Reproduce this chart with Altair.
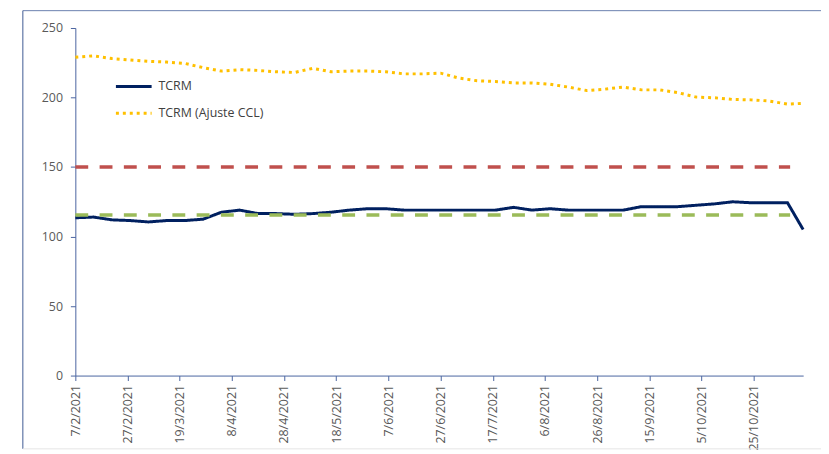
import altair as alt
import pandas as pd

fechas = [
    "2021-02-07", "2021-02-14", "2021-02-21", "2021-02-28", "2021-03-07", "2021-03-14",
    "2021-03-21", "2021-03-28", "2021-04-04", "2021-04-11", "2021-04-18", "2021-04-25",
    "2021-05-02", "2021-05-09", "2021-05-16", "2021-05-23", "2021-05-30", "2021-06-06",
    "2021-06-13", "2021-06-20", "2021-06-27", "2021-07-04", "2021-07-11", "2021-07-18",
    "2021-07-25", "2021-08-01", "2021-08-08", "2021-08-15", "2021-08-22", "2021-08-29",
    "2021-09-05", "2021-09-12", "2021-09-19", "2021-09-26", "2021-10-03", "2021-10-10",
    "2021-10-17", "2021-10-24", "2021-10-31", "2021-11-07", "2021-11-13",
]

tcrm = [113.5, 114, 112, 111.5, 110.5, 111.5, 111.5, 112.5, 117.5, 119, 116.5, 116.5,
        116, 116.5, 117.5, 119, 120, 120, 119, 119, 119, 119, 119, 119,
        121, 119, 120, 119, 119, 119, 119, 121.5, 121.5, 121.5, 122.5, 123.5,
        125, 124.3, 124.3, 124.3, 105]

tcrm_ccl = [229, 230, 228, 227, 226, 225.5, 224.5, 221.5, 219, 220, 219.5, 218.5,
            218, 221, 218.5, 219, 219, 218.5, 217, 217, 217.5, 214, 212, 211.5,
            210.5, 210.5, 209.5, 207.5, 205, 206, 207.5, 205.5, 205.5, 203.5, 200.3, 199.8,
            198.6, 198.3, 197.5, 195.2, 195.8]

series = ["TCRM", "TCRM (Ajuste CCL)"]

umbral_valores = [150, 115.5]
umbral_inicio = "2021-02-07"
umbral_fin = "2021-11-08"

tick_fechas = ["2021-02-07", "2021-02-27", "2021-03-19", "2021-04-08", "2021-04-28",
               "2021-05-18", "2021-06-07", "2021-06-27", "2021-07-17", "2021-08-06",
               "2021-08-26", "2021-09-15", "2021-10-05", "2021-10-25"]

y_ticks = [0, 50, 100, 150, 200, 250]


def ms(s):
    return int(pd.Timestamp(s, tz="UTC").value // 10**6)


df = pd.DataFrame({
    "fecha": fechas * 2,
    "serie": [series[0]] * len(tcrm) + [series[1]] * len(tcrm_ccl),
    "valor": tcrm + tcrm_ccl,
})

FONT = "Open Sans"
AXIS_COL = "#4A64A0"
LABEL_COL = "#595959"

x_enc = alt.X(
    "fecha:T",
    scale=alt.Scale(type="utc", domain=[ms(fechas[0]), ms(fechas[-1])]),
    axis=alt.Axis(
        title=None, values=[ms(t) for t in tick_fechas], format="%-d/%-m/%Y",
        labelAngle=270, labelFontSize=12.5, labelColor=LABEL_COL, labelFont=FONT,
        domainColor=AXIS_COL, tickColor=AXIS_COL, tickSize=5, labelPadding=4,
        grid=False, labelOverlap=False,
    ),
)
y_scale = alt.Scale(domain=[0, 250], nice=False)
y_axis = alt.Axis(
    title=None, values=y_ticks, labelFontSize=12.5, labelColor=LABEL_COL, labelFont=FONT,
    domainColor=AXIS_COL, tickColor=AXIS_COL, tickSize=5, labelPadding=8, grid=False,
)

legend_kw = dict(
    title=None, orient="none", legendX=39, legendY=39, symbolType="stroke",
    symbolSize=1300, symbolStrokeWidth=3, labelFontSize=12.5, labelFont=FONT,
    labelColor="#404040", rowPadding=0, labelOffset=5,
)

lines = alt.Chart(df).mark_line(strokeWidth=3).encode(
    x=x_enc,
    y=alt.Y("valor:Q", scale=y_scale, axis=y_axis),
    color=alt.Color(
        "serie:N",
        scale=alt.Scale(domain=series, range=["#002060", "#FFC000"]),
        legend=alt.Legend(**legend_kw),
    ),
    strokeDash=alt.StrokeDash(
        "serie:N",
        scale=alt.Scale(domain=series, range=[[1, 0], [3, 4]]),
        legend=alt.Legend(**legend_kw),
    ),
)

umbrales = pd.DataFrame({
    "valor": umbral_valores,
    "inicio": [umbral_inicio] * 2,
    "fin": [umbral_fin] * 2,
})

rojo = alt.Chart(umbrales.iloc[[0]]).mark_rule(
    color="#C0504D", strokeWidth=3.5, strokeDash=[13, 11.5]
).encode(x="inicio:T", x2="fin:T", y=alt.Y("valor:Q", scale=y_scale))

verde = alt.Chart(umbrales.iloc[[1]]).mark_rule(
    color="#9BBB59", strokeWidth=3.5, strokeDash=[13, 11.5]
).encode(x="inicio:T", x2="fin:T", y=alt.Y("valor:Q", scale=y_scale))

frame_data = alt.Data(values=[{}])
marco_top = alt.Chart(frame_data).mark_rule(color="#6A7FAE", strokeWidth=1).encode(
    x=alt.value(-53), x2=alt.value(800), y=alt.value(-17.5))
marco_left = alt.Chart(frame_data).mark_rule(color="#3F5A93", strokeWidth=1).encode(
    x=alt.value(-53), y=alt.value(-17.5), y2=alt.value(425))
marco_bottom = alt.Chart(frame_data).mark_rule(color="#E6E6E6", strokeWidth=1).encode(
    x=alt.value(-53), x2=alt.value(800), y=alt.value(425))

chart = alt.layer(
    marco_top, marco_left, marco_bottom, rojo, lines, verde
).properties(
    width=735, height=351,
    padding={"left": 68, "top": 18, "right": 18, "bottom": 76},
    autosize=alt.AutoSizeParams(type="none"),
    background="white",
).configure_view(stroke=None)

chart.save("out.html", embed_options={"renderer": "svg", "actions": False})
